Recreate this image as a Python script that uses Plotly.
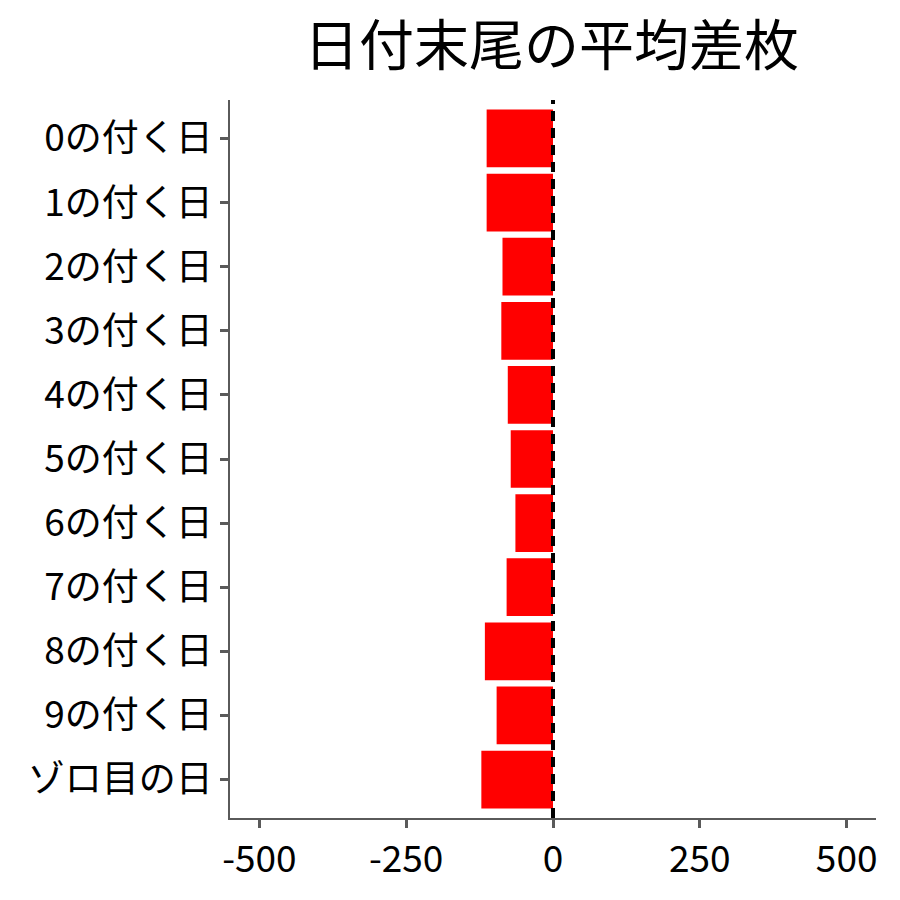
import plotly.graph_objects as go

categories = ["0の付く日", "1の付く日", "2の付く日", "3の付く日", "4の付く日",
              "5の付く日", "6の付く日", "7の付く日", "8の付く日", "9の付く日", "ゾロ目の日"]
avg_diff = [-113, -113, -86, -88, -77, -72, -64, -79, -116, -96, -122]
x_ticks = [-500, -250, 0, 250, 500]

font_family = "Noto Sans CJK JP"
axis_gray = "#5a5a5a"

fig = go.Figure()
fig.add_trace(go.Bar(
    x=avg_diff,
    y=categories,
    orientation="h",
    marker=dict(color="#ff0000", line=dict(width=0)),
    width=0.9,
))

# dashed zero line
fig.add_vline(x=0, line=dict(color="black", width=4, dash="10px,7px"), layer="above")

fig.update_layout(
    width=900,
    height=900,
    paper_bgcolor="white",
    plot_bgcolor="white",
    showlegend=False,
    margin=dict(l=222, r=32, t=92, b=90),
    title=dict(
        text="日付末尾の平均差枚",
        x=0.604, xanchor="center",
        y=0.958, yanchor="middle",
        font=dict(family=font_family, size=55, color="black"),
    ),
    font=dict(family=font_family, color="black"),
)

fig.update_xaxes(
    range=[-550, 550],
    tickvals=x_ticks,
    ticktext=[str(v) for v in x_ticks],
    showgrid=False,
    zeroline=False,
    showline=True,
    linecolor=axis_gray,
    linewidth=1.5,
    ticks="outside",
    ticklen=8,
    tickwidth=3,
    tickcolor=axis_gray,
    tickfont=dict(family=font_family, size=37, color="black"),
)

fig.update_yaxes(
    categoryorder="array",
    categoryarray=categories[::-1],
    range=[-0.6, 10.6],
    showgrid=False,
    zeroline=False,
    showline=True,
    linecolor=axis_gray,
    linewidth=1.5,
    ticks="outside",
    ticklen=8,
    tickwidth=3,
    tickcolor=axis_gray,
    tickfont=dict(family=font_family, size=37, color="black"),
)

fig.write_html("out.html")
